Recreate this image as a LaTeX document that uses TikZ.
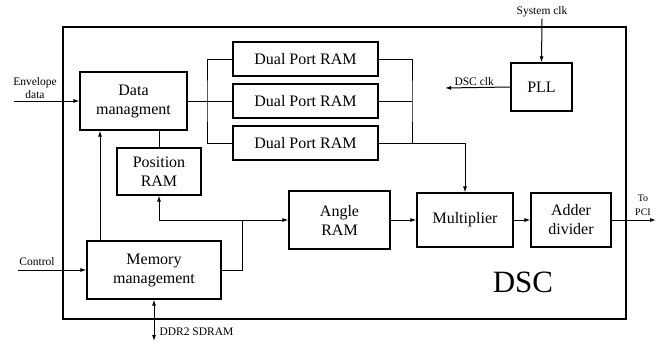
\documentclass[tikz,border=0pt]{standalone}
\usepackage{fontspec}
\setmainfont{Liberation Serif}
\usepackage{tikz}
\usetikzlibrary{arrows.meta,positioning}
\tikzset{
    block/.style={
           rectangle,
           draw=black, line width=1.1pt,
           inner sep=2pt,
           align=center,
           font=\fontsize{16}{19}\selectfont,
           },
}
\tikzset{
    lbl/.style={
           inner sep=1pt,
           align=center,
           font=\fontsize{11.5}{13}\selectfont,
           },
}

\begin{document}
\begin{tikzpicture}[x=1pt,y=-1pt,>={Latex[length=6pt,width=4pt]},line width=1pt]
\useasboundingbox (0,0) rectangle (668,343);
\draw[line width=2pt] (63,27) rectangle (626,319);
\node[block,minimum width=107pt,minimum height=58pt](dm) at (133.5,101){Data\\managment};
\node[block,minimum width=145pt,minimum height=34pt](dpr1) at (305.5,59){Dual Port RAM};
\node[block,minimum width=145pt,minimum height=34pt](dpr2) at (305.5,101){Dual Port RAM};
\node[block,minimum width=145pt,minimum height=34pt](dpr3) at (305.5,143){Dual Port RAM};
\node[block,minimum width=61pt,minimum height=48pt](pll) at (541.5,87){PLL};
\node[block,minimum width=84pt,minimum height=47pt](pos) at (159,171.5){Position\\RAM};
\node[block,minimum width=134pt,minimum height=58pt](mm) at (154,270){Memory\\management};
\node[block,minimum width=101pt,minimum height=58pt](angle) at (339.5,220){Angle\\RAM};
\node[block,minimum width=96pt,minimum height=54pt](mult) at (465,220){Multiplier};
\node[block,minimum width=80pt,minimum height=54pt](adder) at (571,220){Adder\\divider};
\node[font=\fontsize{31}{31}\selectfont](dsc) at (523,282){DSC};
% inputs and outputs
\node[lbl](env) at (35,88){Envelope\\data};
\coordinate (envin) at (14,101);
\draw[->] (envin) -- (dm.west);
\node[lbl](ctl) at (37,262){Control};
\coordinate (ctlin) at (18,270);
\draw[->] (ctlin) -- (mm.west);
\node[lbl](sys) at (542,12){System clk};
\draw[->] (sys.south) -- (pll.north);
\coordinate (dscclk) at (445,88);
\draw[->] (pll.west) -- (dscclk);
\node[lbl,above=1pt of dscclk,anchor=south west,xshift=8pt](dsclbl){DSC clk};
\coordinate (pci) at (656,220);
\draw[->] (adder.east) -- (pci);
\node[lbl,font=\fontsize{10}{14}\selectfont](tolbl) at (643,205){To\\PCI};
\coordinate (ddr) at (154,341);
\draw[<->] (mm.south) -- (ddr);
\node[lbl,right=4pt of ddr,yshift=9pt](ddrlbl){DDR2 SDRAM};
% dual port bus
\coordinate (busl) at (207,101);
\coordinate (busr) at (412,101);
\draw (dm.east) -- (busl);
\draw (dpr1.west) -| (busl) |- (dpr3.west);
\draw (dpr2.west) -- (busl);
\draw (dpr1.east) -| (busr) |- (dpr3.east);
\draw (dpr2.east) -- (busr);
\draw[->] (dpr3.east) -| (mult.north);
% memory management links
\draw (dm.south -| pos.north) -- (pos.north);
\draw[->] (mm.north -| 100,0) -- (dm.south -| 100,0);
\coordinate (jn) at (242,220);
\draw (mm.east) -| (jn);
\draw[->] (jn) -- (angle.west);
\draw[->] (jn) -| (pos.south);
\draw[->] (angle.east) -- (mult.west);
\draw[->] (mult.east) -- (adder.west);
\end{tikzpicture}
\end{document}
